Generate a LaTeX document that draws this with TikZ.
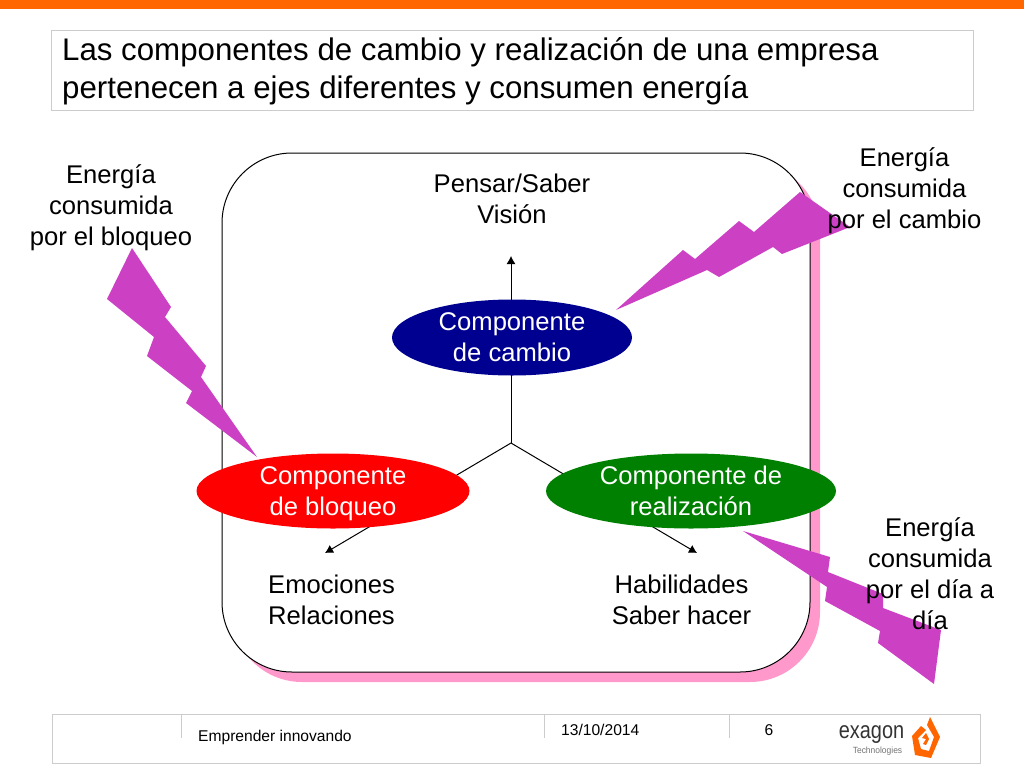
\documentclass[tikz,border=0pt]{standalone}
\usepackage{fontspec}
\setmainfont{Liberation Sans}
\usepackage{tikz}
\usepackage{xcolor}
\usetikzlibrary{arrows.meta,positioning,shapes.geometric}
\definecolor{barorange}{HTML}{FF6600}
\definecolor{boltpurple}{HTML}{CC40C4}
\definecolor{shadowpink}{HTML}{FF99CC}
\definecolor{framegray}{HTML}{CCCCCC}
\definecolor{cambioblue}{HTML}{000090}
\definecolor{realizgreen}{HTML}{008000}
\begin{document}
\begin{tikzpicture}[x=1pt,y=-1pt,
  every node/.style={font=\fontsize{25.6}{30.8}\selectfont,align=center,inner sep=0pt},
  comp/.style={ellipse,inner sep=0pt,text=white},
  caption/.style={text=black},
  bolt/.style={fill=boltpurple,draw=none},
  arr/.style={-{Latex[length=8pt,width=9pt]},line width=1pt},
  foot/.style={font=\fontsize{15.6}{18}\selectfont}]
\useasboundingbox (0,0) rectangle (1024,768);
\fill[barorange] (0,0) rectangle (1024,9);
\node[draw=framegray,line width=1pt,minimum width=922pt,minimum height=79pt] (titlebox) at (512,70.5) {};
\node[font=\fontsize{31.25}{38}\selectfont,align=left,anchor=west] (title) at (62,71) {Las componentes de cambio y realización de una empresa\\pertenecen a ejes diferentes y consumen energía};
% marco
\fill[shadowpink,rounded corners=70pt] (232,163) rectangle (820,682);
\draw[fill=white,line width=1pt,rounded corners=70pt] (222,153) rectangle (810,672);
% ejes
\coordinate (hub) at (511,443);
\coordinate (tipup) at (511,256);
\coordinate (tipleft) at (325,553);
\coordinate (tipright) at (697,553);
\draw[arr] (hub)--(tipup);
\draw[arr] (hub)--(tipleft);
\draw[arr] (hub)--(tipright);
% componentes
\node[comp,fill=cambioblue,minimum width=240pt,minimum height=76pt] (cambio) at (512,337.5) {Componente\\de cambio};
\node[comp,fill=red,minimum width=273pt,minimum height=75pt] (bloqueo) at (333,491) {Componente\\\raisebox{0pt}[\height][0pt]{de bloqueo}};
\node[comp,fill=realizgreen,minimum width=290pt,minimum height=75pt] (realiz) at (691,491) {Componente de\\realización};
% rayos
\fill[bolt] (616,310)--(683,250)--(695,259)--(739,221)--(754,232)--(800,192)--(850,227)--(830,235)--(782,254)--(773,247)--(719,277)--(707,270)--cycle;
\fill[bolt] (132,248)--(171,307)--(165,317)--(206,366)--(201,377)--(257,457)--(186,403)--(192,391)--(147,356)--(154,337)--(107,299)--cycle;
\fill[bolt] (743,531)--(830,557)--(828,572)--(883,594)--(883,608)--(941,630)--(934,684)--(878,643)--(880,631)--(825,601)--(827,587)--cycle;
% textos
\node[caption] (pensar) at (512,199) {Pensar/Saber\\Visión};
\node[caption] (emociones) at (331.5,600) {Emociones\\Relaciones};
\node[caption] (habilidades) at (681.5,600) {Habilidades\\Saber hacer};
\node[caption] (ebloqueo) at (111,208) {Energía\\consumida\\por el bloqueo};
\node[caption] (ecambio) at (904.5,191) {Energía\\consumida\\por el cambio};
\node[caption] (edia) at (930,573.5) {Energía\\consumida\\por el día a\\día};
% pie
\node[draw=framegray,line width=1pt,minimum width=928pt,minimum height=49pt] (footbox) at (516,738.5) {};
\draw[framegray,line width=1pt] (181,714)--(181,738);
\draw[framegray,line width=1pt] (544,714)--(544,738);
\draw[framegray,line width=1pt] (729,714)--(729,738);
\node[foot,anchor=west] (lema) at (198,737) {Emprender innovando};
\node[foot,anchor=west] (fecha) at (561,730) {13/10/2014};
\node[foot] (pagina) at (769,730) {6};
\node[font=\fontsize{24}{24}\selectfont,text=black!80] (exagon) at (871.5,735) {\scalebox{.83}[1]{exagon}};
\node[font=\fontsize{9}{10}\selectfont,text=black!55] (tecno) at (877.5,751) {\scalebox{.94}[1]{Technologies}};
\fill[barorange] (930,717)--(940,737)--(931,758)--(915,755)--(912,736)--(921,726)--(926,730)--(918,738)--(921,749)--(929,751)--(934,737)--(927,725)--cycle;
\fill[barorange] (922,738)--(926,733)--(929,739)--(926,745)--(923,744)--(926,739)--cycle;
\end{tikzpicture}
\end{document}
